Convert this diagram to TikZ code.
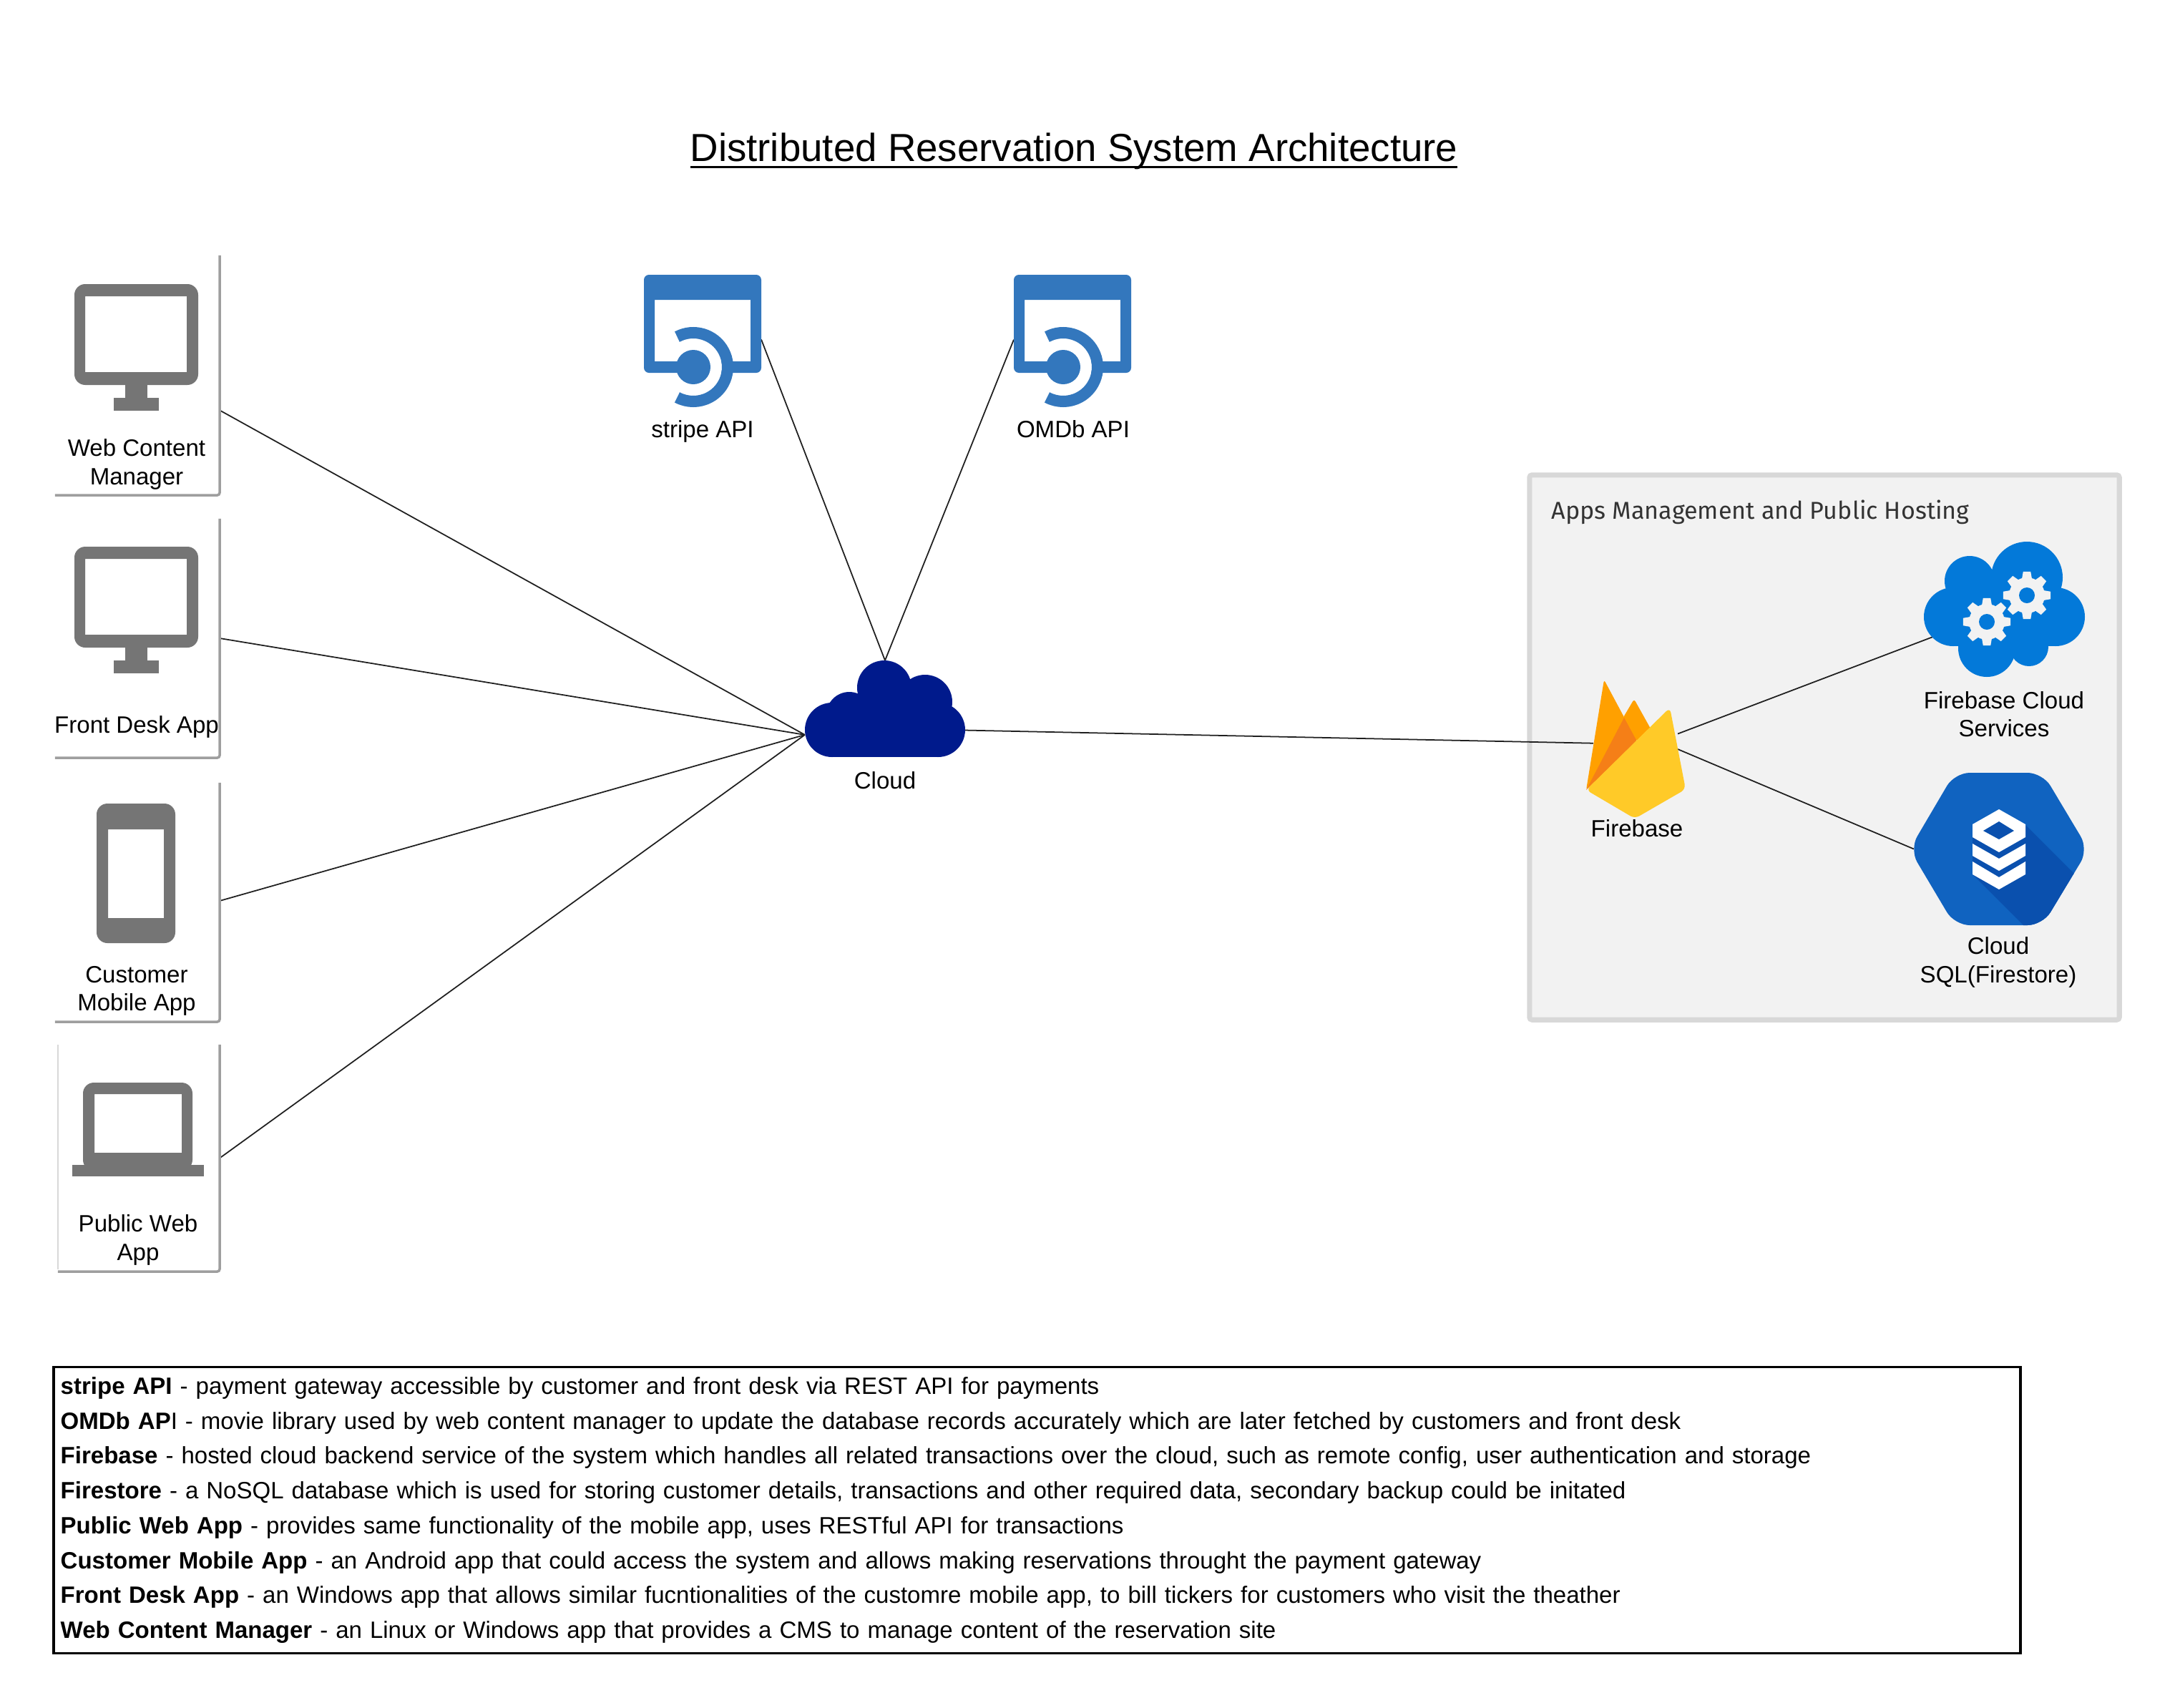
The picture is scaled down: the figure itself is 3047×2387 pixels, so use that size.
\documentclass[tikz,border=0pt]{standalone}
\usepackage{fontspec}
\setmainfont{Liberation Sans}
\newfontfamily\hostingfont{Fira Sans}
\usepackage{tikz}
\usetikzlibrary{positioning}
\definecolor{iconGrey}{HTML}{757575}
\definecolor{edgeGrey}{HTML}{9E9E9E}
\definecolor{apiBlue}{HTML}{3377BD}
\definecolor{cloudNavy}{HTML}{001A8C}
\definecolor{serviceBlue}{HTML}{0379D9}
\definecolor{hexBlue}{HTML}{1063C0}
\definecolor{hexShade}{HTML}{0A50AE}
\definecolor{hostFill}{HTML}{F2F2F2}
\definecolor{hostEdge}{HTML}{D8D8D8}
\definecolor{flameAmber}{HTML}{FFA000}
\definecolor{flameOrange}{HTML}{F57F17}
\definecolor{flameYellow}{HTML}{FFCA28}
\tikzstyle{link} = [line width=0.5pt, draw=black!88, -]
\tikzstyle{iconNode} = [rectangle, inner sep=0pt, outer sep=0pt]
\tikzstyle{labelNode} = [align=center, inner sep=0pt, font=\fontsize{9.4pt}{11.25pt}\selectfont]
\tikzstyle{cardEdge} = [line width=1pt, draw=edgeGrey, rounded corners=1pt]
\tikzstyle{hostingBox} = [rectangle, draw=hostEdge, fill=hostFill, line width=2pt, rounded corners=1pt, inner sep=0pt]
\tikzstyle{legendBox} = [rectangle, draw=black, line width=1pt, inner xsep=0.095cm, inner ysep=0pt, align=left, text width=27.28cm, minimum height=4cm, font=\fontsize{9.39pt}{13.86pt}\selectfont]
\newcommand{\ruledText}[1]{\setbox0\hbox{#1}\rlap{\rule[-2.8pt]{\wd0}{0.9pt}}\box0}
\newcommand{\monitorIcon}[2]{
    \begin{scope}[shift={(#1,#2)}]
        \fill[iconGrey, even odd rule] [rounded corners=4.3pt] (0,0) rectangle (173,141) [sharp corners] (15,17) rectangle (157,123);
        \fill[iconGrey] (71,140) rectangle (102,160);
        \fill[iconGrey] (55,159) rectangle (118,177);
    \end{scope}
}
\newcommand{\apiIcon}[2]{
    \begin{scope}[shift={(#1,#2)}]
        \fill[apiBlue, even odd rule] [rounded corners=2pt] (0,0) rectangle (164,137) [sharp corners] (15,35) rectangle (149,121);
        \fill[white] (69,89) arc (-90:90:40) -- cycle;
        \draw[apiBlue, line width=4.55pt] (69,129) ++(-118:48) arc (-118:118:48);
        \fill[apiBlue] (69,129) circle (24);
    \end{scope}
}
\newcommand{\gearIcon}[2]{
    \begin{scope}[shift={(#1,#2)}]
        \fill[hostFill] (0,0) circle (25);
        \foreach \a in {0,45,...,315} {
            \fill[hostFill] (\a-17:24) -- (\a-9:33.5) -- (\a+9:33.5) -- (\a+17:24) -- cycle;
        }
        \fill[serviceBlue] (0,0) circle (11);
    \end{scope}
}
\begin{document}
\begin{tikzpicture}[x=0.01cm, y=-0.01cm]
    \useasboundingbox (0,0) rectangle (3047,2387);

    \node (title) [anchor=base, inner sep=0pt, font=\fontsize{15.55pt}{18pt}\selectfont] at (1501,225) {\ruledText{Distributed Reservation System Architecture}};

    \node (webCard) [iconNode, minimum width=2.30cm, minimum height=3.35cm] at (192,524.5) {};
    \node (frontCard) [iconNode, minimum width=2.30cm, minimum height=3.34cm] at (192,892) {};
    \node (mobileCard) [iconNode, minimum width=2.30cm, minimum height=3.34cm] at (192,1261) {};
    \node (publicCard) [iconNode, minimum width=2.26cm, minimum height=3.17cm] at (194,1618.5) {};
    \node (stripeIcon) [iconNode, minimum width=1.64cm, minimum height=1.37cm] at (982,452.5) {};
    \node (omdbIcon) [iconNode, minimum width=1.65cm, minimum height=1.37cm] at (1499.5,452.5) {};
    \node (cloud) [iconNode, minimum width=2.24cm, minimum height=1.35cm] at (1237,990.5) {};
    \node (hosting) [hostingBox, minimum width=8.24cm, minimum height=7.61cm] at (2550,1044.5) {};
    \node (firebase) [iconNode, minimum width=1.18cm, minimum height=1.90cm] at (2286,1047) {};
    \node (services) [iconNode, minimum width=2.13cm, minimum height=1.89cm] at (2807.5,851.5) {};
    \node (sqlHex) [iconNode, minimum width=2.38cm, minimum height=2.13cm] at (2794,1186.5) {};

    \draw (webCard.-23.3) [link] -- (cloud.198.5);
    \draw (frontCard.east) [link] -- (cloud.198.5);
    \draw (mobileCard.1.5) [link] -- (cloud.198.5);
    \draw (publicCard.east) [link] -- (cloud.198.5);
    \draw (stripeIcon.-15.3) [link] -- (cloud.north);
    \draw (omdbIcon.195.3) [link] -- (cloud.north);
    \draw (cloud.-15.2) [link] -- (firebase.172.4);
    \draw (firebase.20.1) [link] -- (services.200);
    \draw (firebase.-0.95) [link] -- (sqlHex.west);

    \draw [cardEdge] (webCard.north east) -- (webCard.south east) -- (webCard.south west);
    \draw [cardEdge] (frontCard.north east) -- (frontCard.south east) -- (frontCard.south west);
    \draw [cardEdge] (mobileCard.north east) -- (mobileCard.south east) -- (mobileCard.south west);
    \draw [cardEdge] (publicCard.north east) -- (publicCard.south east) -- (publicCard.south west);
    \draw [line width=0.5pt, draw=hostEdge] (publicCard.north west) -- ([yshift=0.03cm]publicCard.south west);

    \monitorIcon{104}{397}
    \monitorIcon{104}{764}
    \fill[iconGrey, even odd rule] [rounded corners=4.3pt] (135,1123) rectangle (245,1318) [sharp corners] (151,1159) rectangle (229,1283);
    \fill[iconGrey, even odd rule] [rounded corners=4.3pt] (116,1513) rectangle (269,1636) [sharp corners] (132,1529) rectangle (254,1611);
    \fill[iconGrey] (101,1628) rectangle (285,1644);

    \apiIcon{900}{384}
    \apiIcon{1417}{384}

    \fill[cloudNavy] (1163,1020) circle (38);
    \fill[cloudNavy] (1187,999) circle (32);
    \fill[cloudNavy] (1236,961) circle (38);
    \fill[cloudNavy] (1293,981) circle (38);
    \fill[cloudNavy] (1311,1020) circle (38);
    \fill[cloudNavy] (1163,985) rectangle (1311,1058);

    \fill[flameAmber, rounded corners=1pt] (2217,1104) -- (2242,950) -- (2272,1006) -- cycle;
    \fill[flameAmber, rounded corners=1pt] (2268,1004) -- (2284,977) -- (2308,1020) -- (2287,1036) -- cycle;
    \fill[flameOrange] (2217,1104) -- (2270,1003) -- (2288,1036) -- cycle;
    \fill[flameYellow, rounded corners=2pt] (2217,1104) -- (2334,989) -- (2356,1103) -- (2285,1144) -- cycle;

    \fill[serviceBlue] (2833,807) circle (50);
    \fill[serviceBlue] (2753,812) circle (35);
    \fill[serviceBlue] (2730,862) circle (41);
    \fill[serviceBlue] (2873,862) circle (41);
    \fill[serviceBlue] (2777,906) circle (40);
    \fill[serviceBlue] (2836,904) circle (27);
    \fill[serviceBlue] (2730,820) rectangle (2873,903);
    \gearIcon{2777}{869}
    \gearIcon{2833}{832}

    \fill[hexBlue, rounded corners=6pt] (2669,1187) -- (2732,1080) -- (2855,1080) -- (2919,1187) -- (2855,1293) -- (2732,1293) -- cycle;
    \begin{scope}
        \clip[rounded corners=6pt] (2669,1187) -- (2732,1080) -- (2855,1080) -- (2919,1187) -- (2855,1293) -- (2732,1293) -- cycle;
        \fill[hexShade] (2831,1153) -- (2905,1227) -- (2880,1310) -- (2845,1310) -- (2757,1222) -- cycle;
    \end{scope}
    \fill[hexShade] (2757,1165) -- (2831,1165) -- (2831,1222) -- (2794,1243) -- (2757,1222) -- cycle;
    \fill[white] (2794,1131) -- (2831,1152) -- (2831,1170) -- (2794,1191) -- (2757,1170) -- (2757,1152) -- cycle;
    \fill[hexShade] (2794,1148) -- (2815,1161) -- (2794,1173) -- (2772,1161) -- cycle;
    \fill[white] (2757,1179) -- (2794,1200) -- (2831,1179) -- (2831,1196) -- (2794,1217) -- (2757,1196) -- cycle;
    \fill[white] (2757,1204) -- (2794,1226) -- (2831,1204) -- (2831,1222) -- (2794,1243) -- (2757,1222) -- cycle;

    \node (webLabel) [labelNode] at (191,649) {Web Content\\Manager};
    \node (frontLabel) [labelNode] at (191,1016) {Front Desk App};
    \node (mobileLabel) [labelNode] at (191,1385) {Customer\\Mobile App};
    \node (publicLabel) [labelNode] at (193,1733) {Public Web\\App};
    \node (stripeLabel) [labelNode] at (982,603) {stripe API};
    \node (omdbLabel) [labelNode] at (1500,600) {OMDb API};
    \node (cloudLabel) [labelNode] at (1237,1090.5) {Cloud};
    \node (firebaseLabel) [labelNode] at (2288,1157.5) {Firebase};
    \node (servicesLabel) [labelNode] at (2801,998) {Firebase Cloud\\Services};
    \node (sqlLabel) [labelNode] at (2793,1345) {Cloud\\SQL(Firestore)};
    \node (hostingLabel) [anchor=base west, inner sep=0pt, text=black!80, font=\hostingfont\fontsize{9.7pt}{11pt}\selectfont] at (2168,725) {Apps Management and Public Hosting};

    \node (legend) [legendBox] at (1449.5,2110.5) {\textbf{stripe API} - payment gateway accessible by customer and front desk via REST API for payments\\
        \textbf{OMDb AP}I - movie library used by web content manager to update the database records accurately which are later fetched by customers and front desk\\
        \textbf{Firebase} - hosted cloud backend service of the system which handles all related transactions over the cloud, such as remote config, user authentication and storage\\
        \textbf{Firestore} - a NoSQL database which is used for storing customer details, transactions and other required data, secondary backup could be initated\\
        \textbf{Public Web App} - provides same functionality of the mobile app, uses RESTful API for transactions\\
        \textbf{Customer Mobile App} - an Android app that could access the system and allows making reservations throught the payment gateway\\
        \textbf{Front Desk App} - an Windows app that allows similar fucntionalities of the customre mobile app, to bill tickers for customers who visit the theather\\
        \textbf{Web Content Manager} - an Linux or Windows app that provides a CMS to manage content of the reservation site};
\end{tikzpicture}
\end{document}
